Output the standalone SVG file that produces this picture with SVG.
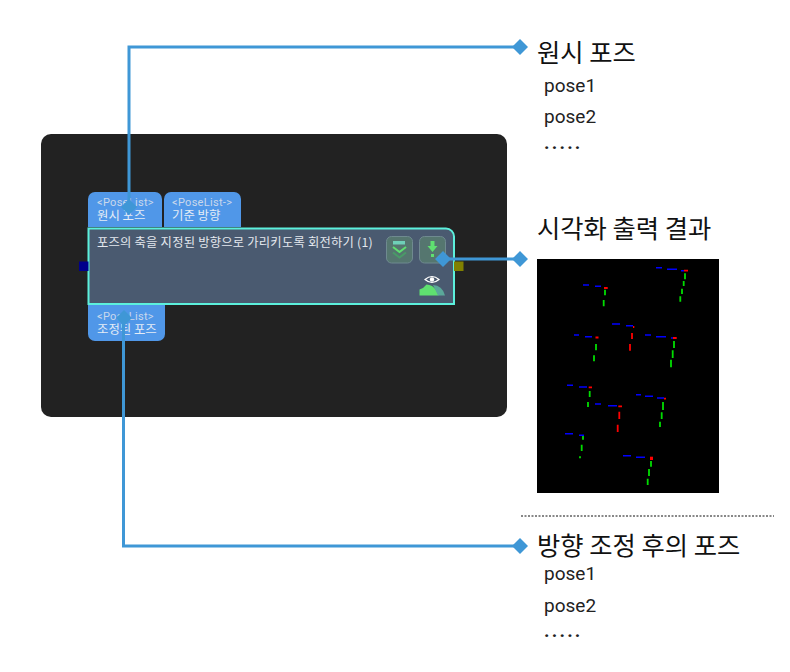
<svg xmlns="http://www.w3.org/2000/svg" width="790" height="672" viewBox="0 0 790 672">
<style>
.tag{fill:#5097e8}
.tt{font-family:Roboto,"Noto Sans CJK KR",sans-serif;font-size:11px;fill:#c9d8ec;letter-spacing:.3px}
.tk{font-family:"Noto Sans CJK KR",sans-serif;font-size:12.400px;fill:#e4ecf6}
.ko{font-family:"Noto Sans CJK KR",sans-serif}
.h{font-size:25.300px;fill:#111}
.p{font-family:Roboto,sans-serif;font-size:19px;fill:#222}
.d{font-family:Roboto,sans-serif;font-size:19px;font-weight:700;letter-spacing:2.200px;fill:#222}
.con{fill:none;stroke:#3f97d6;stroke-width:3}
.dia{fill:#3f97d6}
.b{stroke:#00f;stroke-width:1.500;fill:none}.g{stroke:#0d0;stroke-width:1.800;fill:none}.r{stroke:#f00;stroke-width:1.800;fill:none}
</style>
<rect width="790" height="672" fill="#fff"/>
<rect id="panel" x="41" y="134" width="466" height="283" rx="10" fill="#222"/>
<g id="input-raw"><path class="tag" d="M88 227V199a7 7 0 0 1 7-7h60a7 7 0 0 1 7 7v28z"/><text class="tt" x="97" y="205.500">&lt;PoseList&gt;</text><text class="tk" x="97" y="220">원시 포즈</text></g>
<g id="input-ref"><path class="tag" d="M164 227V199a7 7 0 0 1 7-7h63a7 7 0 0 1 7 7v28z"/><text class="tt" x="172" y="205.500">&lt;PoseList-&gt;</text><text class="tk" x="172" y="220">기준 방향</text></g>
<g id="output-tag"><path class="tag" d="M88 305h77v29a7 7 0 0 1-7 7H95a7 7 0 0 1-7-7z"/><text class="tt" x="97" y="320">&lt;PoseList&gt;</text><text class="tk" x="97" y="334">조정된 포즈</text></g>
<g id="node">
<path d="M88.500 228.500H446a8 8 0 0 1 8 8V304H88.500z" fill="#4a5a70" stroke="#5cf0dc" stroke-width="2"/>
<text class="ko" x="97" y="247" font-size="12.300" fill="#e4e8ee" letter-spacing=".22">포즈의 축을 지정된 방향으로 가리키도록 회전하기 (1)</text>
<rect x="79" y="261.500" width="9.500" height="9.500" fill="#00008b"/>
<rect x="454" y="261.500" width="9.500" height="9.500" fill="#808000"/>
<g id="btn1"><rect x="386.500" y="236.500" width="26" height="26.500" rx="5" fill="#55766f" stroke="#6f8a90"/><rect x="393" y="241" width="12" height="3.500" fill="#6fd0b8"/><path d="M393 247l6.500 5 6.500-5" fill="none" stroke="#5fe070" stroke-width="2"/><path d="M393 252.500l6.500 5 6.500-5" fill="none" stroke="#4a9a68" stroke-width="2"/></g>
<g id="btn2"><rect x="419.500" y="236.500" width="26" height="26.500" rx="5" fill="#55766f" stroke="#6f8a90"/><path d="M430.500 241h4v5h3l-5 6-5-6h3z" fill="#5fe070"/><rect x="431" y="254" width="3" height="3" fill="#5fe070"/></g>
<g id="vis"><path d="M425 279.500q7-6 14 0q-7 6-14 0z" fill="none" stroke="#fff" stroke-width="1.200"/><circle cx="432" cy="279.500" r="2.200" fill="#fff"/><path d="M419.500 295.500v-6q4-1 7-5q6 0 10 6l2 5z" fill="#5fe070"/><path d="M433 285q9 0 12 10.500h-7z" fill="#5aa89a"/></g>
</g>
<g id="connectors">
<path class="con" d="M129 207V47H520"/>
<path class="con" d="M123.500 318V546H520"/>
<path class="con" d="M443 259H520"/>
<path class="dia" d="M129 199l8 8-8 8-8-8zM124 310l8 8-8 8-8-8zM443 251l8 8-8 8-8-8zM520 39l8 8-8 8-8-8zM520 251l8 8-8 8-8-8zM520 538l8 8-8 8-8-8z"/>
</g>
<g id="label-in"><text class="ko h" x="537" y="62">원시 포즈</text><text class="p" x="544" y="92">pose1</text><text class="p" x="544" y="123">pose2</text><text class="d" x="544" y="149">.....</text></g>
<g id="label-vis"><text class="ko h" x="537" y="238">시각화 출력 결과</text></g>
<g id="vis-image">
<rect x="537" y="259" width="182" height="234" fill="#000"/>
<path class="b" d="M656 267.700h6M667 269.300h10M681 270.700h3M583 285h6M595 286.300h6M612 324h8M626 325.700h7M574 335h5M585 336.700h7M645 335h6M656 336.700h10M671 338h3M567 385.300h6M579 387h8M595 404h6M608 405.700h9M636 394.700h5M645 396.300h8M657 398h7M565 433.700h8M579 435.300h5M623 455.700h8M636 457.300h9"/>
<path class="g" d="M685 273.300v6M683.700 281v5M682 288.700v5.300M680.300 296.300v5.400M605 289.700v5.600M603.700 300v6.300M596 344v6.300M594 355.300v6M674 341v7M672.700 350.300v7.700M671 359.700v7.600M589.700 391v6M588 402v5M663 402v8M661.700 412.300v6.700M660 421.700v5.300M583 436v3.700M581.700 444.700v6.300M580 456.300v2M651 461v5.700M649 469v7M647.700 478.700v6.300"/>
<path class="r" d="M684 270.700h4M604 288h3.700M633 327h1.300M632 333v6M630 344v6.700M595.500 337.500h3M673 338h3.700M588.700 387.300h3.300M618.300 406.300h3.700M619.300 411.700v7.300M617.700 424.700v7.300M664 398.700h2"/>
<rect x="650" y="456.700" width="3" height="3.300" fill="#f00"/>
</g>
<path id="divider" d="M521 516H774" fill="none" stroke="#111" stroke-dasharray="2 1.500"/>
<g id="label-out"><text class="ko h" x="537" y="555">방향 조정 후의 포즈</text><text class="p" x="544" y="580">pose1</text><text class="p" x="544" y="612">pose2</text><text class="d" x="544" y="637">.....</text></g>
</svg>
